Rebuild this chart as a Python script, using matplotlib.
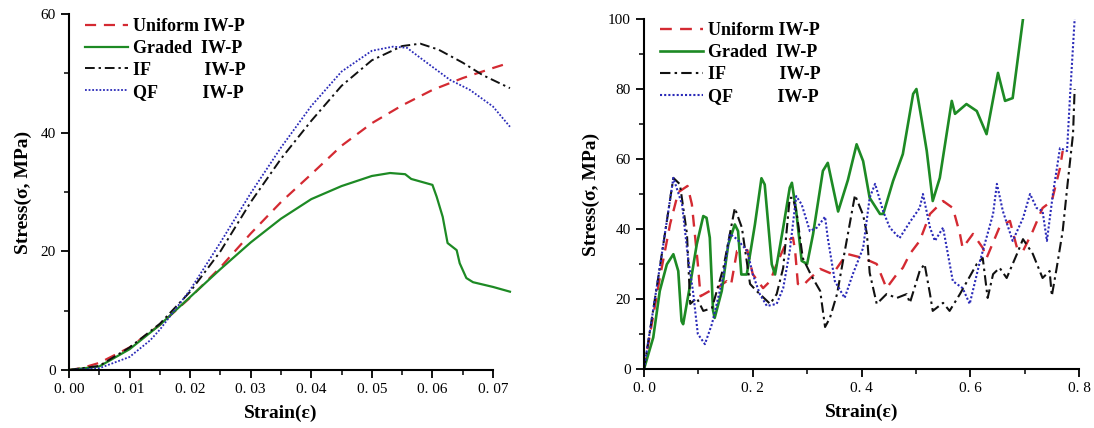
import matplotlib
matplotlib.use('Agg')
from matplotlib import pyplot as plt
from matplotlib.ticker import MultipleLocator, FuncFormatter

plt.rcParams['font.family'] = 'Liberation Serif'

# ---- left panel: small strain range ----
uni_x = [0, 0.002, 0.005, 0.01, 0.015, 0.02, 0.025, 0.03, 0.035, 0.04, 0.045,
         0.05, 0.055, 0.06, 0.065, 0.07, 0.0728]
uni_y = [0, 0.3, 1.2, 3.8, 7.6, 12.2, 17.3, 23.0, 28.3, 33.0, 37.8,
         41.6, 44.6, 47.2, 49.2, 50.9, 51.8]

gra_x = [0, 0.005, 0.01, 0.015, 0.02, 0.025, 0.03, 0.035, 0.04, 0.045, 0.05,
         0.053, 0.0555, 0.0565, 0.06, 0.0607, 0.0617, 0.0625, 0.064, 0.0645,
         0.0656, 0.0667, 0.07, 0.0728]
gra_y = [0, 0.6, 3.5, 7.6, 12.3, 17.0, 21.5, 25.5, 28.8, 31.0, 32.7,
         33.2, 33.0, 32.2, 31.2, 29.2, 25.8, 21.4, 20.2, 18.0,
         15.5, 14.8, 14.0, 13.2]

if_x = [0, 0.005, 0.01, 0.015, 0.02, 0.025, 0.03, 0.035, 0.04, 0.045, 0.05,
        0.055, 0.058, 0.061, 0.065, 0.0683, 0.0728]
if_y = [0, 0.7, 3.8, 7.8, 13.2, 20.0, 28.3, 35.6, 42.0, 47.9, 52.2,
        54.6, 55.0, 54.0, 51.8, 49.7, 47.5]

qf_x = [0, 0.005, 0.01, 0.0134, 0.015, 0.02, 0.025, 0.03, 0.035, 0.04, 0.045,
        0.05, 0.0535, 0.0558, 0.0584, 0.0629, 0.0662, 0.07, 0.0728]
qf_y = [0, 0.3, 2.2, 5.0, 6.8, 13.5, 21.5, 29.8, 37.5, 44.5, 50.3,
        53.8, 54.5, 54.3, 52.3, 48.9, 47.2, 44.4, 41.0]

# ---- right panel: full strain range ----
uni2_x = [0, 0.029, 0.048, 0.063, 0.080, 0.088, 0.099, 0.104, 0.121, 0.134, 0.152,
          0.160, 0.171, 0.182, 0.190, 0.200, 0.219, 0.232, 0.244, 0.263, 0.274,
          0.278, 0.283, 0.292, 0.300, 0.324, 0.347, 0.373, 0.403, 0.428, 0.446,
          0.465, 0.476, 0.489, 0.507, 0.526, 0.550, 0.568, 0.581, 0.586, 0.605,
          0.623, 0.630, 0.654, 0.673, 0.686, 0.697, 0.715, 0.733, 0.750, 0.765,
          0.770]
uni2_y = [0, 26, 41.4, 50.5, 52.3, 47.1, 30, 20.8, 22.3, 23.1, 25.1,
          24.0, 33.7, 33.7, 34, 27.1, 23.1, 25.1, 30, 36.6, 37.5,
          33.7, 24.3, 23.7, 25.1, 28.6, 27.1, 32.9, 31.7, 30, 23.1,
          27.1, 28.9, 32.9, 36.6, 44.3, 48, 46, 38.6, 34.6, 38.6,
          34.6, 31.7, 40.6, 42.3, 34.6, 33.7, 39.4, 46, 48, 57.4,
          62.3]

gra2_x = [0, 0.017, 0.029, 0.042, 0.054, 0.063, 0.069, 0.072, 0.085, 0.097, 0.109,
          0.115, 0.121, 0.127, 0.130, 0.143, 0.155, 0.167, 0.173, 0.179, 0.189,
          0.204, 0.216, 0.222, 0.235, 0.241, 0.256, 0.268, 0.272, 0.280, 0.290,
          0.300, 0.311, 0.329, 0.338, 0.357, 0.375, 0.391, 0.403, 0.415, 0.434,
          0.440, 0.458, 0.476, 0.495, 0.501, 0.511, 0.520, 0.531, 0.544, 0.566,
          0.572, 0.593, 0.612, 0.630, 0.651, 0.664, 0.678, 0.697]
gra2_y = [0, 9, 22.3, 29.9, 32.8, 28, 13.7, 12.8, 24.2, 35.6, 43.7,
          43.2, 37.5, 16.7, 14.6, 22.3, 35.6, 41.3, 39.4, 27, 27,
          41.3, 54.5, 52.7, 29.9, 27, 40.4, 51.8, 53.2, 45, 30.9,
          30, 38.6, 56.6, 58.9, 45, 54, 64.2, 59.4, 48.9, 44.3,
          44.3, 53.7, 61.4, 78.6, 80, 70.9, 62.3, 48, 54.6, 76.6,
          72.9, 75.7, 73.7, 67.1, 84.6, 76.6, 77.4, 100]

if2_x = [0, 0.029, 0.054, 0.066, 0.079, 0.085, 0.097, 0.109, 0.125, 0.146, 0.167,
         0.180, 0.195, 0.207, 0.232, 0.244, 0.256, 0.268, 0.274, 0.281, 0.292,
         0.308, 0.324, 0.333, 0.342, 0.355, 0.366, 0.388, 0.403, 0.410, 0.415,
         0.428, 0.446, 0.465, 0.483, 0.489, 0.507, 0.516, 0.526, 0.531, 0.550,
         0.562, 0.581, 0.612, 0.623, 0.632, 0.642, 0.654, 0.667, 0.686, 0.697,
         0.715, 0.733, 0.746, 0.750, 0.759, 0.770, 0.779, 0.789, 0.792]
if2_y = [0, 28.9, 54.6, 52.8, 38.6, 18.6, 20.3, 16.6, 17.4, 28.9, 46,
         40.4, 24.3, 22.3, 18.6, 21.4, 28.9, 48.9, 48.9, 44.3, 31.7,
         26.6, 22.3, 12.0, 14.6, 21.4, 30.9, 49.7, 44, 38.6, 27.5,
         18.6, 21.4, 20.3, 21.4, 18.9, 28, 30, 21.4, 16.6, 18.9,
         16.6, 21.4, 30, 31.7, 20.3, 27.1, 28.9, 26, 32.9, 37.1,
         32.9, 26, 28, 20.9, 28.9, 39.4, 52.9, 67.1, 80]

qf2_x = [0, 0.029, 0.054, 0.070, 0.081, 0.090, 0.099, 0.112, 0.125, 0.145, 0.158,
         0.171, 0.190, 0.200, 0.213, 0.226, 0.244, 0.256, 0.268, 0.280, 0.290,
         0.305, 0.318, 0.333, 0.338, 0.351, 0.369, 0.384, 0.403, 0.415, 0.425,
         0.440, 0.452, 0.470, 0.489, 0.507, 0.513, 0.526, 0.535, 0.550, 0.568,
         0.586, 0.599, 0.618, 0.642, 0.649, 0.660, 0.678, 0.697, 0.710, 0.722,
         0.733, 0.741, 0.752, 0.765, 0.778, 0.783, 0.792]
qf2_y = [0, 29, 54.6, 47, 31.7, 22.3, 10, 7.1, 12.9, 26, 38.6,
         37.1, 33.7, 27.1, 21.4, 18, 18.6, 23.1, 33.7, 49.4, 47,
         39.4, 40.4, 43.5, 37.4, 25.1, 20.3, 27.1, 34.6, 48.9, 52.9,
         45, 40.4, 37.4, 42, 46, 50, 40.4, 36.6, 40.4, 25.1,
         23.1, 18.6, 30.9, 44.3, 52.9, 45.1, 36.6, 43.1, 50, 46,
         45.1, 36.6, 50, 63.1, 62.3, 76.6, 100]

labels = ['Uniform IW-P', 'Graded  IW-P', 'IF            IW-P', 'QF          IW-P']

RED = '#d42a32'
GREEN = '#1d8a24'
BLACK = '#111111'
BLUE = '#2a2ab8'

fig = plt.figure(figsize=(10.94, 4.28), dpi=100)
ax1 = fig.add_axes([69 / 1094, 1 - 370 / 428, 424 / 1094, 356 / 428])
ax2 = fig.add_axes([644 / 1094, 1 - 369 / 428, 435 / 1094, 350 / 428])


def style_axes(ax):
    for side in ['top', 'right']:
        ax.spines[side].set_visible(False)
    for side in ['left', 'bottom']:
        ax.spines[side].set_linewidth(1.5)
    ax.tick_params(which='major', direction='out', length=6, width=1.3, labelsize=11)
    ax.tick_params(which='minor', direction='out', length=3.5, width=1.1)
    ax.set_xlabel('Strain(ε)', fontsize=14, fontweight='bold', labelpad=6)
    ax.set_ylabel('Stress(σ, MPa)', fontsize=14, fontweight='bold', labelpad=6)


ax1.plot(uni_x, uni_y, color=RED, ls=(0, (5, 3.5)), lw=1.6, clip_on=False, label=labels[0])
ax1.plot(gra_x, gra_y, color=GREEN, ls='-', lw=1.6, clip_on=False, label=labels[1])
ax1.plot(if_x, if_y, color=BLACK, ls=(0, (5, 2, 1.2, 2)), lw=1.4, clip_on=False, label=labels[2])
ax1.plot(qf_x, qf_y, color=BLUE, ls=(0, (1, 1)), lw=1.3, clip_on=False, label=labels[3])
ax1.set_xlim(0, 0.07)
ax1.set_ylim(0, 60)
ax1.xaxis.set_major_locator(MultipleLocator(0.01))
ax1.xaxis.set_minor_locator(MultipleLocator(0.005))
ax1.yaxis.set_major_locator(MultipleLocator(20))
ax1.yaxis.set_minor_locator(MultipleLocator(10))
ax1.xaxis.set_major_formatter(FuncFormatter(lambda v, p: ('%.2f' % v).replace('.', '. ')))
style_axes(ax1)

ax2.plot(uni2_x, uni2_y, color=RED, ls=(0, (5, 3.5)), lw=1.7, label=labels[0])
ax2.plot(gra2_x, gra2_y, color=GREEN, ls='-', lw=1.9, label=labels[1])
ax2.plot(if2_x, if2_y, color=BLACK, ls=(0, (5, 2, 1.2, 2)), lw=1.5, label=labels[2])
ax2.plot(qf2_x, qf2_y, color=BLUE, ls=(0, (1, 1)), lw=1.5, label=labels[3])
ax2.set_xlim(0, 0.8)
ax2.set_ylim(0, 100)
ax2.xaxis.set_major_locator(MultipleLocator(0.2))
ax2.xaxis.set_minor_locator(MultipleLocator(0.1))
ax2.yaxis.set_major_locator(MultipleLocator(20))
ax2.yaxis.set_minor_locator(MultipleLocator(10))
ax2.xaxis.set_major_formatter(FuncFormatter(lambda v, p: ('%.1f' % v).replace('.', '. ')))
style_axes(ax2)

# legends sit inside the top-left corner of each panel, no frame
for ax, top in ((ax1, 1.009), (ax2, 1.011)):
    ax.legend(loc='upper left', bbox_to_anchor=(0.02, top), frameon=False,
              prop={'weight': 'bold', 'size': 13}, handlelength=2.4,
              handletextpad=0.25, labelspacing=0.27, borderaxespad=0)

fig.savefig('out.png', dpi=100)
